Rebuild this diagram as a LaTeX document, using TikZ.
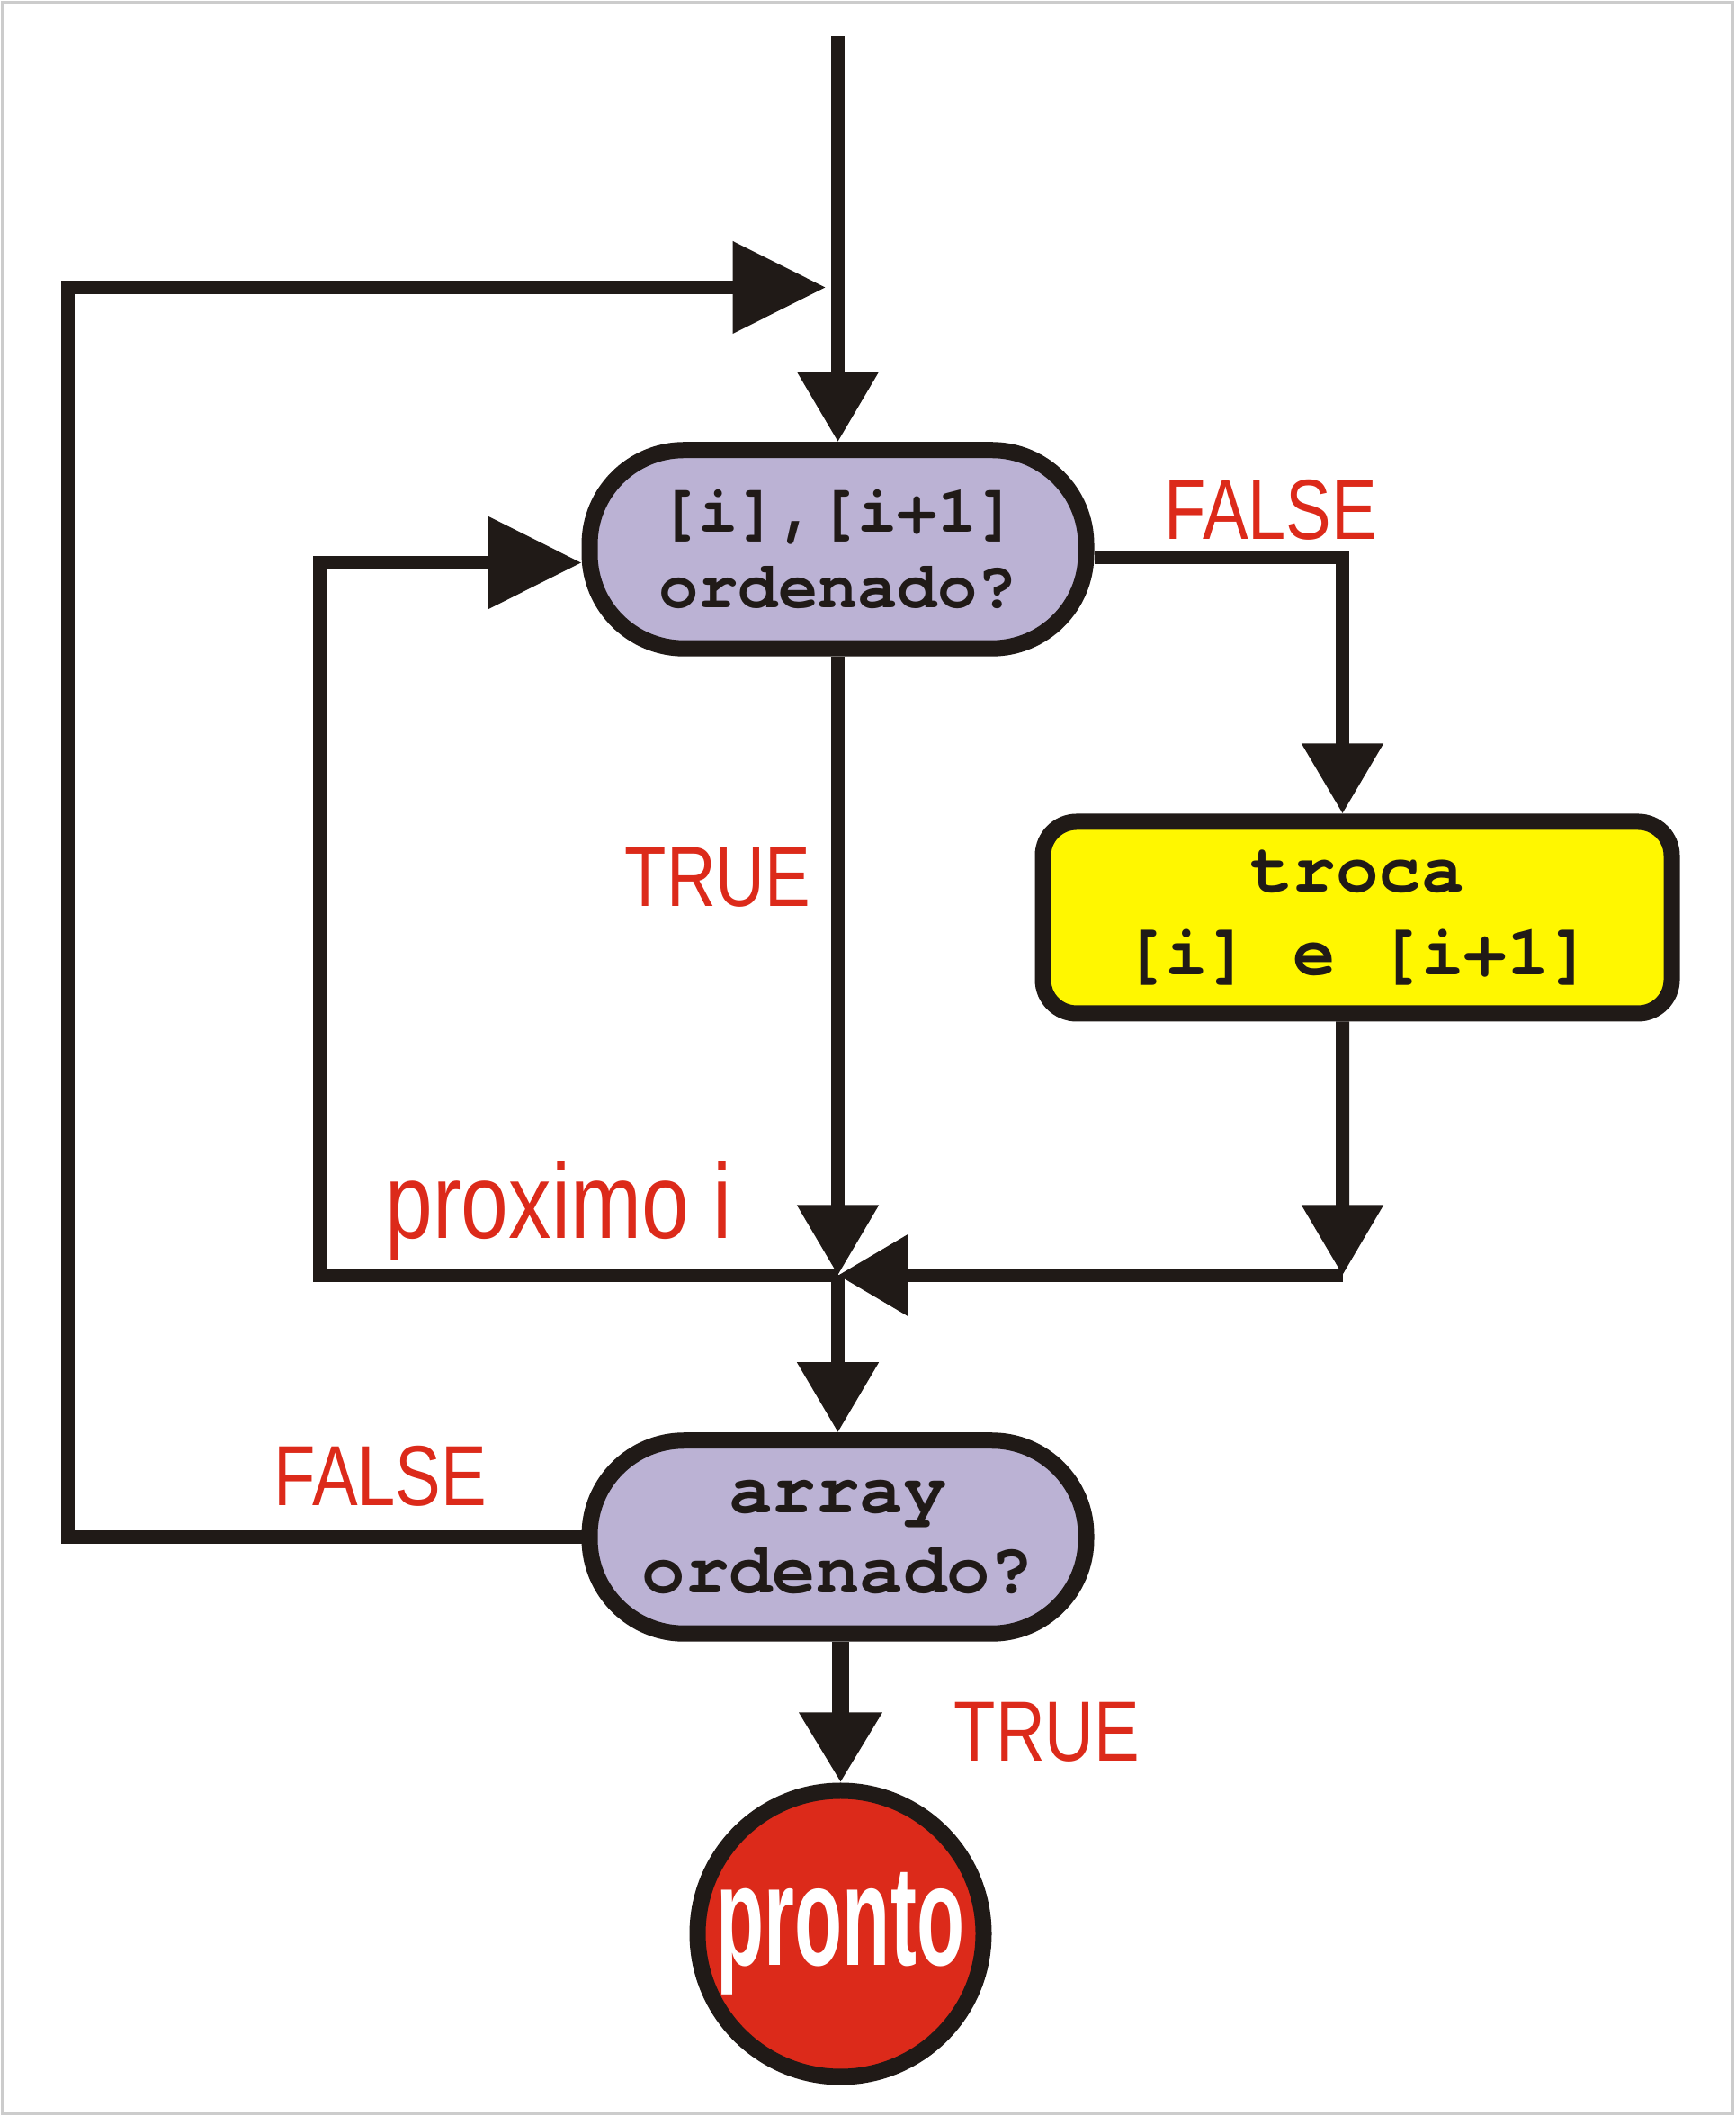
\documentclass[tikz,border=0pt]{standalone}
\usepackage{fontspec}
\usetikzlibrary{arrows.meta}
\newfontfamily\monofont{TeX Gyre Cursor}
\newfontfamily\lblfont[FakeStretch=0.8]{Liberation Sans}
\newfontfamily\prontofont[FakeStretch=0.55]{Liberation Sans}
\definecolor{ink}{RGB}{32,26,23}
\definecolor{lilas}{RGB}{187,178,212}
\definecolor{amarelo}{RGB}{255,247,0}
\definecolor{vermelho}{RGB}{220,42,26}
\begin{document}
\begin{tikzpicture}[
  flow/.style={draw=ink, line width=1mm, -{Triangle[length=5.2mm,width=5.8mm]}},
  flowL/.style={draw=ink, line width=1mm, -{Triangle[length=6.9mm,width=6.6mm]}},
  teste/.style={draw=ink, fill=lilas, line width=1.2mm, rounded corners=7mm, minimum width=3.68cm, align=center, text=ink, inner sep=0pt},
  rotulo/.style={text=vermelho, font=\lblfont\fontsize{18}{18}\selectfont, anchor=base, inner sep=0pt}]
\useasboundingbox (0,0) rectangle (12.86,15.68);
\draw[black!20, line width=0.3mm] (0.02,0.02) rectangle (12.84,15.66);

\node[teste, minimum height=1.47cm, font=\monofont\bfseries\fontsize{14}{15.9}\selectfont] (n1) at (6.21,11.61) {[i],[i+1]\\ordenado?};
\node[teste, minimum height=1.43cm, font=\monofont\bfseries\fontsize{15.3}{17}\selectfont] (n2) at (6.21,4.29) {array\\ordenado?};
\node[draw=ink, fill=amarelo, line width=1.2mm, rounded corners=2.5mm, minimum width=4.66cm, minimum height=1.42cm, align=center, text=ink, inner sep=0pt, font=\monofont\bfseries\fontsize{15}{17.6}\selectfont] (troca) at (10.06,8.88) {troca\\{[i]} e [i+1]};
\node[circle, draw=ink, fill=vermelho, line width=1.2mm, minimum size=2.12cm, inner sep=0pt, text=white, font=\prontofont\bfseries\fontsize{30}{30}\selectfont] (pronto) at (6.23,1.35) {pronto};

\node[rotulo] (f1) at (9.42,11.68) {FALSE};
\node[rotulo] (t1) at (5.32,8.96) {TRUE};
\node[rotulo, font=\lblfont\fontsize{22.5}{22.5}\selectfont] (prox) at (4.14,6.50) {proximo i};
\node[rotulo] (f2) at (2.82,4.52) {FALSE};
\node[rotulo] (t2) at (7.76,2.63) {TRUE};

\coordinate (topo) at (6.21,15.41);
\coordinate (mg) at (6.12,13.55);
\coordinate (jn) at (6.21,6.23);
\coordinate (rc) at (9.95,6.23);

\draw[flow] (topo) -- (n1.north);
\draw[flowL] (n2.west) -- ++(-3.81,0) |- (mg);
\draw[flow] ([yshift=-0.6mm]n1.east) -| ([xshift=-1.1mm]troca.north);
\draw[flow] (n1.south) -- (jn);
\draw[flow] ([xshift=-1.1mm]troca.south) -- (rc);
\draw[flow] (rc) -- (jn);
\draw[flowL] (jn) -- ++(-3.84,0) |- ([yshift=-1mm]n1.west);
\draw[flow] (jn) -- (n2.north);
\draw[flow, line width=1.3mm] (n2.south -| pronto.north) -- (pronto.north);
\end{tikzpicture}
\end{document}
